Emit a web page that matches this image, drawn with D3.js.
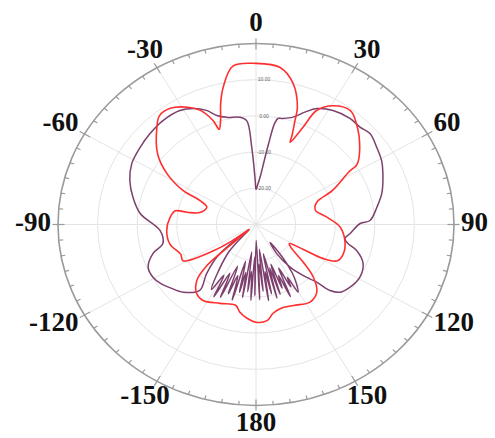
<!DOCTYPE html>
<html>
<head>
<meta charset="utf-8">
<script src="https://cdn.jsdelivr.net/npm/d3@7"></script>
<style>
  body { margin: 0; background: #fff; }
  svg { display: block; }
</style>
</head>
<body>
<div id="chart"></div>
<script>
// angle (deg, clockwise from top) and gain (dB)
const redGain = [
  [0, 14.5], [8, 13.8], [13.5, 10.1], [17.9, 4.0], [18.9, 0.4], [20.3, -3.8], [20.8, -5.7],
  [23.8, -0.7], [26, 5.1], [30.6, 8.1], [37, 9.5], [42, 7.8], [51, 3.7], [57, 0.4], [58, -2.1],
  [64, -8.5], [68, -13.4], [75, -14.5], [84, -11.8], [92, -8.7], [103, -6.9], [110, -6.5],
  [116, -7.1], [119, -10.7], [120, -16.2], [122, -20.1], [126, -19.0], [131, -14.3], [135, -9.6],
  [140.6, -5.8], [147.5, -4.6], [157, -5.7], [165, -6.0], [170, -5.1], [174, -3.3], [180, -3.0],
  [185, -4.0], [189.5, -5.4], [193, -7.1], [202.6, -6.4], [212.5, -5.1], [218, -5.7], [224, -8.5],
  [227.5, -13.2], [228.5, -18.7], [230.6, -27.8], [233, -23.1], [236, -17.0], [241.5, -9.0],
  [246.5, -9.3], [256, -7.6], [266, -7.4], [275, -8.2], [280.5, -9.3], [281, -12.3], [283, -15.4],
  [291, -16.7], [295, -14.4], [297, -9.3], [302, -3.5], [308, 1.5], [317, 6.7], [321, 8.7],
  [326, 8.7], [332, 6.7], [336, 4.5], [339.3, 0.7], [340.5, -2.1], [342.5, -0.2], [345, 4.5],
  [347.6, 8.7], [352.5, 14.2]
];

const purpleGain = [
  [0, -20.3], [1.5, -19.5], [5, -16.2], [6.5, -12.9], [8, -7.9], [9.5, -1.8], [10.7, -0.2],
  [12.5, 0.0], [17.5, 1.1], [21.7, 3.4], [25.6, 5.5], [31.7, 7.0], [39, 7.7], [44.3, 7.6],
  [48.9, 8.2], [55, 7.2], [60.9, 6.3], [66.3, 5.0], [74.9, 2.9], [81.1, 0.9], [87.8, -1.2],
  [89.4, -3.7], [96, -6.1], [99.8, -7.2], [102.7, -6.2], [105.8, -3.6], [111.7, -0.9], [119, 0.0],
  [126.1, -0.6], [131.4, -1.7], [134.3, -3.9], [136.1, -7.9], [139.9, -11.6], [143.9, -15.4],
  [146.9, -20.4], [144.5, -23.9], [143.5, -19.0], [145.5, -14.0], [148, -10.7], [150.4, -8.5],
  [151.5, -13.4], [153, -10.6], [154.5, -16.7], [156.5, -8.3], [158, -14.8], [159.5, -11.2],
  [161, -18.4], [162.5, -9.8], [164, -17.5], [165.5, -9.0], [167, -21.7], [168.5, -10.5], [170, -16.8],
  [171.5, -8.8], [173, -23.1], [174.5, -11.5], [176, -19.0], [177.5, -9.2], [179.3, -25.6], [180.8, -10.4],
  [182, -21.0], [183.5, -9.0], [185, -17.0], [186.5, -11.3], [188, -22.3], [189.5, -9.6], [191, -16.5],
  [192.5, -10.8], [194.5, -19.5], [196, -8.3], [198, -15.2], [200, -9.6], [202, -17.6], [204, -8.0],
  [206, -15.0], [208, -7.4], [210, -13.8], [212, -8.8], [222, -19.5], [231.5, -27.6], [228, -17.0],
  [222.5, -11.5], [218, -6.9], [224.5, -3.8], [231, -2.2], [235.5, -1.0], [240.6, -0.2],
  [246.5, -0.3], [252.9, -2.8], [257.4, -5.9], [266.1, -5.7], [275.9, -0.6], [283.7, 2.0],
  [290.9, 4.1], [298.2, 5.6], [306.1, 6.2], [313.2, 6.7], [320.7, 7.1], [328.6, 6.9],
  [333.6, 5.8], [338.4, 3.9], [341.8, 1.7], [346, 0.5], [352.2, -0.1], [355.3, -1.2],
  [357.1, -8.6], [359, -17.6]
];

const angleLabels = [0, 30, 60, 90, 120, 150, 180, -150, -120, -90, -60, -30];
const ringValues = [-20, -10, 0, 10];
const radialDomain = [-30, 20];

const width = 495, height = 438;
const cx = 256, cy = 224.5, R = 181, stretchX = 1.094;

const svg = d3.select("#chart").append("svg")
  .attr("width", width)
  .attr("height", height);

svg.append("rect").attr("width", width).attr("height", height).attr("fill", "#fff");

// the plot is slightly wider than tall, so draw a circle and stretch it
const g = svg.append("g")
  .attr("transform", `translate(${cx},${cy}) scale(${stretchX},1)`);

const rScale = d3.scaleLinear().domain(radialDomain).range([0, R]);
const rad = deg => deg * Math.PI / 180;

// grid rings
g.selectAll(".ring")
  .data(ringValues)
  .enter().append("circle")
  .attr("r", d => rScale(d))
  .attr("fill", "none")
  .attr("stroke", "#e4e4e4")
  .attr("stroke-width", 1)
  .style("vector-effect", "non-scaling-stroke");

// spokes every 30 deg
g.selectAll(".spoke")
  .data(d3.range(0, 360, 30))
  .enter().append("line")
  .attr("x1", 0).attr("y1", 0)
  .attr("x2", d => R * Math.sin(rad(d)))
  .attr("y2", d => -R * Math.cos(rad(d)))
  .attr("stroke", "#e4e4e4")
  .attr("stroke-width", 1)
  .style("vector-effect", "non-scaling-stroke");

// outer circle
g.append("circle")
  .attr("r", R)
  .attr("fill", "none")
  .attr("stroke", "#9a9a9a")
  .attr("stroke-width", 1.6)
  .style("vector-effect", "non-scaling-stroke");

// ticks
const tickOut = d => (d % 30 === 0 ? R + 5 : R);
const tickIn = d => (d % 30 === 0 ? R - 6 : R - 4);
g.selectAll(".tick")
  .data(d3.range(0, 360, 5))
  .enter().append("line")
  .attr("x1", d => tickOut(d) * Math.sin(rad(d)))
  .attr("y1", d => -tickOut(d) * Math.cos(rad(d)))
  .attr("x2", d => tickIn(d) * Math.sin(rad(d)))
  .attr("y2", d => -tickIn(d) * Math.cos(rad(d)))
  .attr("stroke", "#9a9a9a")
  .attr("stroke-width", 1.2)
  .style("vector-effect", "non-scaling-stroke");

// curves
const line = d3.lineRadial()
  .angle(d => rad(d[0]))
  .radius(d => rScale(d[1]))
  .curve(d3.curveCatmullRomClosed.alpha(0.5));

g.append("path")
  .datum(purpleGain)
  .attr("fill", "none")
  .attr("stroke", "#7d3f6d")
  .attr("stroke-width", 1.5)
  .style("vector-effect", "non-scaling-stroke")
  .attr("d", line);

g.append("path")
  .datum(redGain)
  .attr("fill", "none")
  .attr("stroke", "#ff2f2f")
  .attr("stroke-width", 1.6)
  .style("vector-effect", "non-scaling-stroke")
  .attr("d", line);

// ring labels (unstretched text)
svg.selectAll(".ringLabel")
  .data(ringValues)
  .enter().append("text")
  .attr("x", cx + 8)
  .attr("y", d => cy - rScale(d))
  .attr("dy", "0.35em")
  .attr("text-anchor", "middle")
  .style("font-family", "'Liberation Sans', Arial, sans-serif")
  .style("font-size", "5px")
  .attr("fill", "#666")
  .text(d => d.toFixed(2));

// angle labels: side labels hug the circle, the rest are centred
const labelRx = 222, labelRy = 200, sideGap = 7;
const isSide = d => Math.abs(Math.sin(rad(d))) > 0.8;
svg.selectAll(".angLabel")
  .data(angleLabels)
  .enter().append("text")
  .attr("x", d => {
    const s = Math.sin(rad(d));
    if (isSide(d)) return cx + (R * stretchX + sideGap) * s + (s > 0 ? 0 : -sideGap * 0) ;
    return cx + labelRx * s;
  })
  .attr("y", d => cy - 3 - labelRy * Math.cos(rad(d)))
  .attr("dy", "0.35em")
  .attr("text-anchor", d => isSide(d) ? (Math.sin(rad(d)) > 0 ? "start" : "end") : "middle")
  .style("font-family", "'Liberation Serif', 'Times New Roman', serif")
  .style("font-weight", "bold")
  .style("font-size", "27px")
  .attr("fill", "#111")
  .text(d => d);
</script>
</body>
</html>
